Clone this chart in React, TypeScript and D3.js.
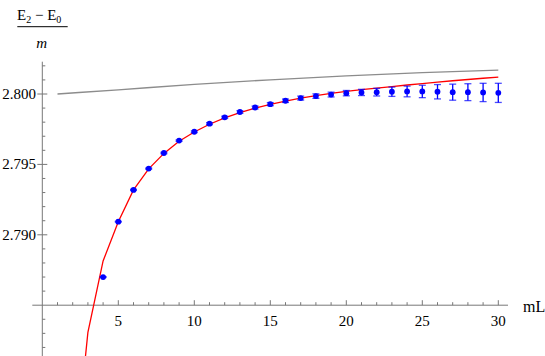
import React from "react";
import * as d3 from "d3";

// lattice data (ErrorListPlot)
const latticeL = [4, 5, 6, 7, 8, 9, 10, 11, 12, 13, 14, 15, 16, 17, 18, 19, 20, 21, 22, 23, 24, 25, 26, 27, 28, 29, 30];
const latticeVal = [
  2.787, 2.79093, 2.79319, 2.7947, 2.79581, 2.79669, 2.79732, 2.79789, 2.79834, 2.79872,
  2.79904, 2.79928, 2.79952, 2.79971, 2.79985, 2.79996, 2.80006, 2.80011, 2.80013, 2.80016,
  2.80018, 2.80018, 2.80016, 2.80013, 2.80013, 2.80011, 2.80008,
];
const latticeErr = [
  0.00003, 0.00003, 0.00004, 0.00004, 0.00005, 0.00005, 0.00006, 0.00007, 0.00008, 0.00009,
  0.0001, 0.00011, 0.00012, 0.00014, 0.00016, 0.00017, 0.00019, 0.00022, 0.00027, 0.00033,
  0.00038, 0.00044, 0.00051, 0.00057, 0.0006, 0.00065, 0.00068,
];

// red fit curve
const fitL = [2, 3, 4, 5, 6, 7, 8, 9, 10, 11, 12, 13, 14, 15, 16, 17, 18, 19, 20, 21, 22, 23, 24, 25, 26, 27, 28, 29, 30];
const fitVal = [
  2.7724, 2.78307, 2.78814, 2.79093, 2.79319, 2.79468, 2.79578, 2.79665, 2.7973, 2.79785,
  2.7983, 2.79868, 2.79899, 2.79926, 2.7995, 2.79971, 2.79989, 2.80005, 2.80019, 2.80031,
  2.80042, 2.80053, 2.80064, 2.80074, 2.80084, 2.80094, 2.80103, 2.80112, 2.8012,
];

// gray reference curve
const refL = [1, 5, 10, 15, 20, 25, 30];
const refVal = [2.8, 2.8003, 2.80068, 2.80101, 2.80129, 2.80152, 2.8017];

const xMajor = [5, 10, 15, 20, 25, 30];
const yMajor = [2.79, 2.795, 2.8];
const yLabels = ["2.790", "2.795", "2.800"];

const W = 545;
const H = 356;
const SERIF = "Liberation Serif";

export default function App() {
  const x = d3.scaleLinear().domain([0, 30]).range([42.3, 498.3]);
  const y = d3.scaleLinear().domain([2.785, 2.8]).range([305.2, 94.0]);

  const x0 = x(0);
  const y0 = y(2.785);

  const xMinor = d3.range(1, 31).filter((v) => v % 5 !== 0);
  const yMinor = d3.range(2782, 2803).filter((v) => v % 5 !== 0).map((v) => v / 1000);

  const fitLine = d3
    .line<number>()
    .x((_, i) => x(fitL[i]))
    .y((d) => y(d))(fitVal);

  const refLine = d3
    .line<number>()
    .x((_, i) => x(refL[i]))
    .y((d) => y(d))
    .curve(d3.curveMonotoneX)(refVal);

  const axisColor = "#777";

  return (
    <svg
      width={W}
      height={H}
      fontFamily={SERIF}
      style={{ position: "absolute", left: 0, top: 0, fontFamily: "'Liberation Serif'" }}
    >
      <defs>
        <clipPath id="plotClip">
          <rect x={32} y={56} width={480} height={H - 56} />
        </clipPath>
      </defs>

      {/* axes */}
      <line x1={32.3} x2={508} y1={y0} y2={y0} stroke={axisColor} strokeWidth={1} />
      <line x1={x0} x2={x0} y1={61.7} y2={H} stroke={axisColor} strokeWidth={1} />

      {/* x ticks */}
      {xMinor.map((v) => (
        <line key={"xm" + v} x1={x(v)} x2={x(v)} y1={y0} y2={y0 - 3} stroke={axisColor} />
      ))}
      {xMajor.map((v) => (
        <line key={"xM" + v} x1={x(v)} x2={x(v)} y1={y0} y2={y0 - 5} stroke={axisColor} />
      ))}
      {xMajor.map((v) => (
        <text key={"xl" + v} x={x(v)} y={326} textAnchor="middle" fontSize={15} fontFamily={SERIF}>
          {v}
        </text>
      ))}

      {/* y ticks */}
      {yMinor.map((v) => (
        <line key={"ym" + v} x1={x0} x2={x0 + 3} y1={y(v)} y2={y(v)} stroke={axisColor} />
      ))}
      {yMajor.map((v) => (
        <line key={"yM" + v} x1={x0 - 5} x2={x0 + 5} y1={y(v)} y2={y(v)} stroke={axisColor} />
      ))}
      {yMajor.map((v, i) => (
        <text key={"yl" + v} x={36} y={y(v) + 5} textAnchor="end" fontSize={15} fontFamily={SERIF}>
          {yLabels[i]}
        </text>
      ))}

      {/* axis labels */}
      <text x={523} y={312} fontSize={16} fontFamily={SERIF}>
        mL
      </text>
      <text x={17} y={20} fontSize={15} fontFamily={SERIF}>
        E<tspan fontSize={10} dy={3}>2</tspan>
        <tspan dy={-3}> − E</tspan>
        <tspan fontSize={10} dy={3}>0</tspan>
      </text>
      <line x1={17.3} x2={67.7} y1={26.7} y2={26.7} stroke="#000" strokeWidth={1} />
      <text x={41.7} y={47.7} fontSize={15} fontStyle="italic" textAnchor="middle" fontFamily={SERIF}>
        m
      </text>

      <g clipPath="url(#plotClip)">
        <path d={refLine ?? ""} fill="none" stroke="#8c8c8c" strokeWidth={1.3} />
        <path d={fitLine ?? ""} fill="none" stroke="#ff0000" strokeWidth={1.3} />

        {latticeL.map((L, i) => {
          const cx = x(L);
          const top = y(latticeVal[i] + latticeErr[i]);
          const bot = y(latticeVal[i] - latticeErr[i]);
          return (
            <g key={"pt" + L}>
              <line x1={cx} x2={cx} y1={top} y2={bot} stroke="#0000ff" strokeWidth={1.3} />
              <line x1={cx - 3.5} x2={cx + 3.5} y1={top} y2={top} stroke="#0000ff" strokeOpacity={0.7} strokeWidth={1.3} />
              <line x1={cx - 3.5} x2={cx + 3.5} y1={bot} y2={bot} stroke="#0000ff" strokeOpacity={0.7} strokeWidth={1.3} />
              <circle cx={cx} cy={y(latticeVal[i])} r={2.9} fill="#0000ff" />
            </g>
          );
        })}
      </g>
    </svg>
  );
}
